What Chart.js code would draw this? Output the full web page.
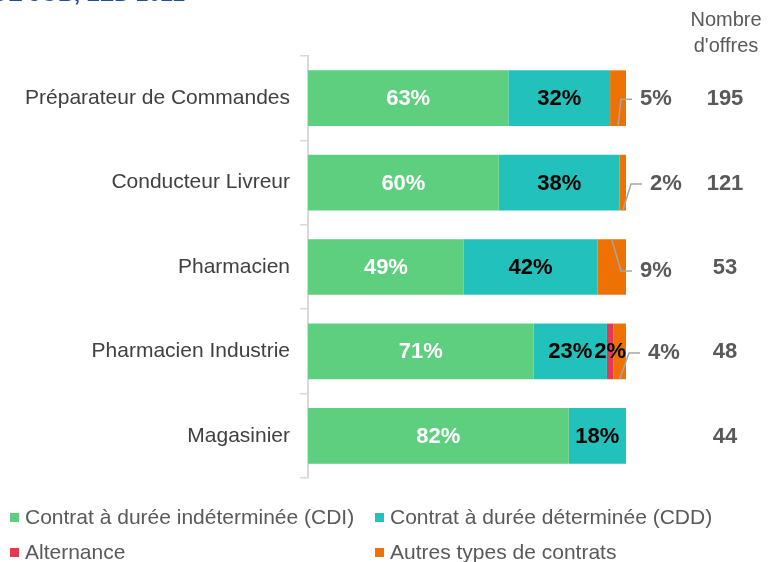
<!DOCTYPE html>
<html>
<head>
<meta charset="utf-8">
<script src="https://cdn.jsdelivr.net/npm/chart.js@4.4.0/dist/chart.umd.min.js"></script>
<style>
  html, body { margin: 0; padding: 0; background: #fff; overflow: hidden; }
  #wrap { position: relative; width: 769px; height: 562px; }
  #title {
    position: absolute; left: -8px; top: -19px; white-space: nowrap;
    font: bold 22px "Liberation Sans", Arial, sans-serif; color: #1f4e9a;
  }
  canvas { position: absolute; left: 0; top: 0; }
</style>
</head>
<body>
<div id="wrap">
  <canvas id="contratChart" width="769" height="562"></canvas>
  <div id="title">DE JOB, LED 2022</div>
</div>
<script>
// data
const metiers = ["Préparateur de Commandes", "Conducteur Livreur", "Pharmacien", "Pharmacien Industrie", "Magasinier"];
const cdi = [63, 60, 49, 71, 82];
const cdd = [32, 38, 42, 23, 18];
const alternance = [0, 0, 0, 2, 0];
const autres = [5, 2, 9, 4, 0];
const nbOffres = [195, 121, 53, 48, 44];
const seriesLabels = [
  "Contrat à durée indéterminée (CDI)",
  "Contrat à durée déterminée (CDD)",
  "Alternance",
  "Autres types de contrats"
];
const seriesColors = ["#5ece7f", "#22c1bb", "#e8384f", "#ee7203"];

const FONT = "'Liberation Sans', Arial, sans-serif";
const GREY = "#595959";

// where the "autres" labels sit relative to the bar end (label nudges, not data)
const autresLeader = [
  { dx: 14, dy: 1, fromTop: false },
  { dx: 24, dy: 1.5, fromTop: false },
  { dx: 14, dy: 4, fromTop: true },
  { dx: 22, dy: 1.5, fromTop: false },
  { dx: 14, dy: 0, fromTop: false }
];

const labelsPlugin = {
  id: "labelsPlugin",
  afterDatasetsDraw(chart) {
    const ctx = chart.ctx;
    const area = chart.chartArea;
    ctx.save();
    ctx.font = "bold 22px " + FONT;
    ctx.textBaseline = "middle";

    chart.data.datasets.forEach(function (ds, i) {
      const meta = chart.getDatasetMeta(i);
      meta.data.forEach(function (bar, j) {
        const v = ds.data[j];
        if (!v) return;
        const p = bar.getProps(["x", "y", "base", "height"], true);
        if (i < 3) {
          ctx.textAlign = "center";
          ctx.fillStyle = i === 0 ? "#ffffff" : "#000000";
          ctx.fillText(v + "%", (p.x + p.base) / 2, p.y + 1);
        } else {
          // outside label with a small leader line
          const nudge = autresLeader[j];
          const lx = area.right + nudge.dx;
          const ly = p.y + nudge.dy;
          const sx = (p.x + p.base) / 2;
          const sy = nudge.fromTop ? p.y - p.height / 2 : p.y + p.height / 2;
          ctx.strokeStyle = "#a6a6a6";
          ctx.lineWidth = 1.5;
          ctx.beginPath();
          ctx.moveTo(sx, sy);
          ctx.lineTo(lx - 19, ly);
          ctx.lineTo(lx - 8, ly);
          ctx.stroke();
          ctx.textAlign = "left";
          ctx.fillStyle = GREY;
          ctx.fillText(v + "%", lx, ly);
        }
      });
    });

    // Nombre d'offres column
    const yScale = chart.scales.y;
    ctx.textAlign = "center";
    ctx.fillStyle = GREY;
    nbOffres.forEach(function (n, j) {
      ctx.fillText(String(n), 725, yScale.getPixelForValue(j) + 1);
    });
    ctx.font = "20px " + FONT;
    ctx.fillText("Nombre", 726, 20);
    ctx.fillText("d'offres", 726, 46);

    // legend in two columns
    const cols = [10, 375];
    const rows = [518, 553];
    ctx.textAlign = "left";
    ctx.font = "21px " + FONT;
    chart.data.datasets.forEach(function (ds, i) {
      const x = cols[i % 2];
      const y = rows[Math.floor(i / 2)];
      ctx.fillStyle = ds.backgroundColor;
      ctx.fillRect(x, y - 5, 9, 9);
      ctx.fillStyle = GREY;
      ctx.fillText(ds.label, x + 15, y);
    });
    ctx.restore();
  }
};

const seriesData = [cdi, cdd, alternance, autres];

new Chart(document.getElementById("contratChart"), {
  type: "bar",
  data: {
    labels: metiers,
    datasets: seriesData.map(function (d, i) {
      return {
        label: seriesLabels[i],
        data: d,
        backgroundColor: seriesColors[i],
        borderWidth: 0,
        categoryPercentage: 1,
        barPercentage: 0.66
      };
    })
  },
  options: {
    indexAxis: "y",
    responsive: false,
    animation: false,
    layout: { padding: { left: 0, right: 143, top: 56, bottom: 84 } },
    plugins: {
      legend: { display: false },
      tooltip: { enabled: false }
    },
    scales: {
      x: { stacked: true, display: false, min: 0, max: 100 },
      y: {
        stacked: true,
        afterFit: function (scale) { scale.width = 308; },
        grid: {
          display: true,
          drawOnChartArea: false,
          drawTicks: true,
          tickLength: 8,
          color: "#d9d9d9",
          lineWidth: 1.5
        },
        border: { display: true, color: "#d9d9d9", width: 2 },
        ticks: {
          color: "#404040",
          padding: 10,
          font: { family: FONT, size: 21 }
        }
      }
    }
  },
  plugins: [labelsPlugin]
});
</script>
</body>
</html>
